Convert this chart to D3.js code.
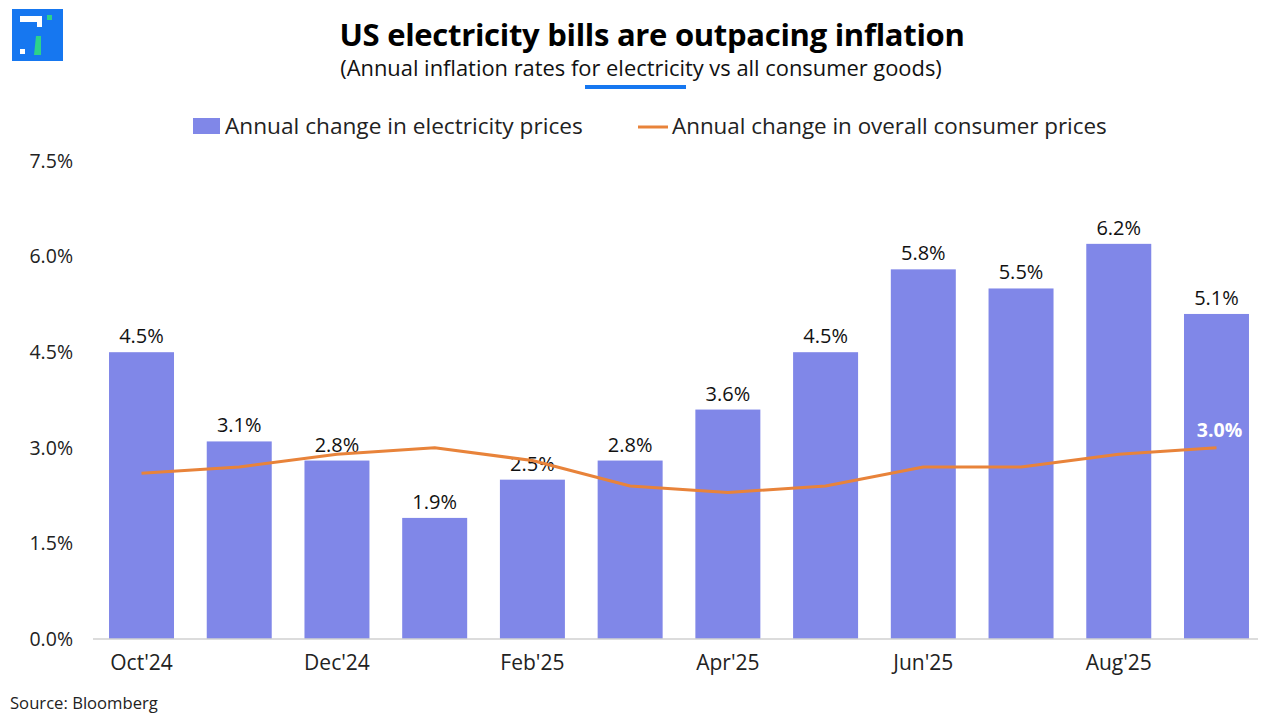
<!DOCTYPE html>
<html><head><meta charset="utf-8">
<script src="https://cdn.jsdelivr.net/npm/d3@7"></script>
<style>body{margin:0;background:#fff}svg{display:block}text{font-family:"Open Sans","Lato",sans-serif}</style>
</head><body><svg id="c" width="1280" height="720"></svg>
<script>
const months = ["Oct'24","Nov'24","Dec'24","Jan'25","Feb'25","Mar'25","Apr'25","May'25","Jun'25","Jul'25","Aug'25","Sep'25"];
const electricity = [4.5,3.1,2.8,1.9,2.5,2.8,3.6,4.5,5.8,5.5,6.2,5.1];
const overall = [2.6,2.7,2.9,3.0,2.8,2.4,2.3,2.4,2.7,2.7,2.9,3.0];
const yTicks = [0,1.5,3.0,4.5,6.0,7.5];
const xLabelMonths = ["Oct'24","Dec'24","Feb'25","Apr'25","Jun'25","Aug'25"];

const svg = d3.select("#c");
const barColor = "#8087E8", lineColor = "#E8833A";
const FONT = "'Open Sans', Lato, sans-serif";

function fit(sel, w){
  const n = sel.node(); const fs = parseFloat(sel.attr("font-size"));
  const cur = n.getComputedTextLength();
  if (cur>0) sel.attr("font-size", fs*w/cur);
  return sel;
}

// logo
const logo = svg.append("g");
logo.append("rect").attr("x",12).attr("y",9).attr("width",51).attr("height",52).attr("fill","#1677F0");
logo.append("path").attr("d","M20 16 H42 V27 H37 V22 H20 Z").attr("fill","#fff");
logo.append("rect").attr("x",20).attr("y",49).attr("width",5).attr("height",5).attr("fill","#fff");
logo.append("path").attr("d","M34 55 L36 36 H41 V55 Z").attr("fill","#2DD38A");
logo.append("rect").attr("x",47).attr("y",15).attr("width",5).attr("height",5).attr("fill","#2DD38A");

// titles
fit(svg.append("text").attr("x",652).attr("y",46).attr("text-anchor","middle")
  .attr("font-size",30).attr("font-weight",700).attr("fill","#000").attr("letter-spacing",-0.3)
  .text("US electricity bills are outpacing inflation"),625);
fit(svg.append("text").attr("x",641).attr("y",76).attr("text-anchor","middle")
  .attr("font-size",19).attr("fill","#111")
  .text("(Annual inflation rates for electricity vs all consumer goods)"),602);
svg.append("rect").attr("x",585).attr("y",85).attr("width",101).attr("height",4).attr("fill","#1677F0");

// legend
svg.append("rect").attr("x",193).attr("y",118).attr("width",27).attr("height",16).attr("fill",barColor);
fit(svg.append("text").attr("x",225).attr("y",134).attr("font-size",20).attr("fill","#222").text("Annual change in electricity prices"),358);
svg.append("line").attr("x1",638).attr("x2",668).attr("y1",127).attr("y2",127).attr("stroke",lineColor).attr("stroke-width",3);
fit(svg.append("text").attr("x",672).attr("y",134).attr("font-size",20).attr("fill","#222").text("Annual change in overall consumer prices"),435);

const x = d3.scaleBand().domain(months).range([92.65,1265.35]).paddingInner(0.335).paddingOuter(0.1675);
const y = d3.scaleLinear().domain([0,7.5]).range([639,161]);

// y axis labels
const yAxis = d3.axisLeft(y).tickValues(yTicks).tickFormat(d=>d.toFixed(1)+"%").tickSize(0).tickPadding(0);
const ya = svg.append("g").attr("transform","translate(73,0)").call(yAxis);
ya.select(".domain").remove();
ya.selectAll("text").attr("font-size",19.5).attr("fill","#222").attr("font-family",FONT);

// bars
svg.append("g").selectAll("rect").data(months).join("rect")
  .attr("x",d=>x(d)).attr("width",x.bandwidth())
  .attr("y",(d,i)=>y(electricity[i])).attr("height",(d,i)=>y(0)-y(electricity[i]))
  .attr("fill",barColor);

// x axis
const xAxis = d3.axisBottom(x).tickValues(xLabelMonths).tickSize(0).tickPadding(16);
const xa = svg.append("g").attr("transform","translate(0,639)").call(xAxis);
xa.select(".domain").attr("stroke","#d0d0d0").attr("stroke-width",1.5).attr("d","M93,0H1258");
xa.selectAll("text").attr("font-size",21).attr("fill","#222").attr("font-family",FONT);

// bar labels
svg.append("g").selectAll("text").data(months).join("text")
  .attr("x",d=>x(d)+x.bandwidth()/2).attr("y",(d,i)=>y(electricity[i])-9)
  .attr("text-anchor","middle").attr("font-size",20).attr("fill","#111")
  .text((d,i)=>electricity[i].toFixed(1)+"%");

// line
const line = d3.line().x((d,i)=>x(months[i])+x.bandwidth()/2).y(d=>y(d));
svg.append("path").datum(overall).attr("d",line).attr("fill","none")
  .attr("stroke",lineColor).attr("stroke-width",3).attr("stroke-linejoin","round");

// last line label
const li = overall.length-1;
svg.append("text").attr("x",x(months[li])+x.bandwidth()/2+3).attr("y",y(overall[li])-11)
  .attr("text-anchor","middle").attr("font-size",19.5).attr("font-weight",700).attr("fill","#fff")
  .text(overall[li].toFixed(1)+"%");

// source
fit(svg.append("text").attr("x",10).attr("y",709).attr("font-size",15).attr("fill","#222").text("Source: Bloomberg"),148);
</script></body></html>
